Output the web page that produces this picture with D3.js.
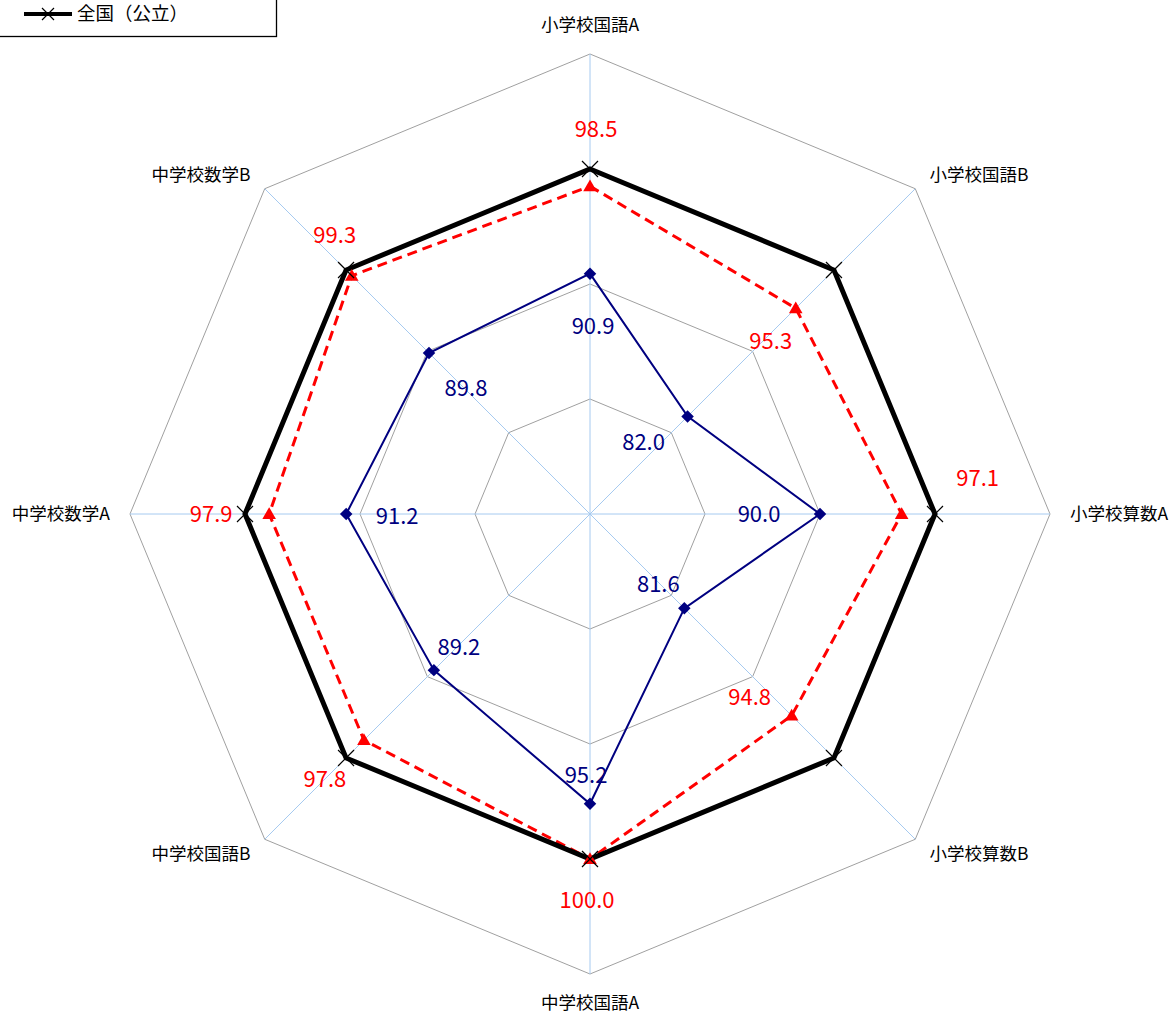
<!DOCTYPE html>
<html>
<head>
<meta charset="utf-8">
<script src="https://cdn.jsdelivr.net/npm/d3@7"></script>
<style>
  body { margin: 0; background: #fff; }
  text { font-family: "Noto Sans CJK JP", "Noto Sans", sans-serif; }
</style>
</head>
<body>
<script>
// categories, clockwise from the top
var categories = ["小学校国語A", "小学校国語B", "小学校算数A", "小学校算数B",
                  "中学校国語A", "中学校国語B", "中学校数学A", "中学校数学B"];
var nationalValues = [100, 100, 100, 100, 100, 100, 100, 100];
var redValues = [98.5, 95.3, 97.1, 94.8, 100.0, 97.8, 97.9, 99.3];
var blueValues = [90.9, 82.0, 90.0, 81.6, 95.2, 89.2, 91.2, 89.8];
var ringValues = [80, 90, 100, 110];
var legendLabel = "全国（公立）";

// where each data label sits relative to its point (layout only)
var redLabelShift = [[6, -57], [-25, 33], [76, -36], [-42, -18], [-3, 41], [-39, 39], [-58, 0], [-17, -40]];
var blueLabelShift = [[3, 53], [-44, 26], [-61, 0], [-26, -24], [-4, -29], [25, -23], [51, 2], [37, 35]];

var width = 1173, height = 1014;
var cx = 590, cy = 514, outer = 460;

var svg = d3.select("body").append("svg")
    .attr("width", width)
    .attr("height", height);

var r = d3.scaleLinear().domain([70, 110]).range([0, outer]);
var angle = d3.scaleLinear().domain([0, categories.length]).range([0, 2 * Math.PI]);

function px(v, i) { return cx + r(v) * Math.sin(angle(i)); }
function py(v, i) { return cy - r(v) * Math.cos(angle(i)); }

var radial = d3.lineRadial()
    .angle(function(d, i) { return angle(i); })
    .radius(function(d) { return r(d); })
    .curve(d3.curveLinearClosed);

var plot = svg.append("g")
    .attr("transform", "translate(" + cx + "," + cy + ")");

// grid rings
plot.selectAll(".ring")
    .data(ringValues)
  .enter().append("path")
    .attr("class", "ring")
    .attr("d", function(v) { return radial(categories.map(function() { return v; })); })
    .attr("fill", "none")
    .attr("stroke", "#a0a0a0")
    .attr("stroke-width", 1);

// spokes
plot.selectAll(".spoke")
    .data(categories)
  .enter().append("line")
    .attr("class", "spoke")
    .attr("x1", 0).attr("y1", 0)
    .attr("x2", function(d, i) { return r(110) * Math.sin(angle(i)); })
    .attr("y2", function(d, i) { return -r(110) * Math.cos(angle(i)); })
    .attr("stroke", "#a6caf0")
    .attr("stroke-width", 1);

// axis labels
svg.selectAll(".axislabel")
    .data(categories)
  .enter().append("text")
    .attr("class", "axislabel")
    .attr("x", function(d, i) { return px(110, i) + 20 * Math.sin(angle(i)); })
    .attr("y", function(d, i) {
      var c = Math.cos(angle(i)), s = Math.abs(Math.sin(angle(i)));
      return py(110, i) - c * (s < 0.1 ? 29 : 20);
    })
    .attr("dy", "0.35em")
    .style("text-anchor", function(d, i) {
      var s = Math.sin(angle(i));
      return s > 0.1 ? "start" : (s < -0.1 ? "end" : "middle");
    })
    .style("font-size", "17.5px")
    .attr("fill", "#000")
    .text(function(d) { return d; });

// blue series
plot.append("path")
    .attr("d", radial(blueValues))
    .attr("fill", "none")
    .attr("stroke", "#000080")
    .attr("stroke-width", 2);
svg.selectAll(".bluept")
    .data(blueValues)
  .enter().append("path")
    .attr("class", "bluept")
    .attr("d", d3.symbol().type(d3.symbolSquare).size(78))
    .attr("transform", function(d, i) { return "translate(" + px(d, i) + "," + py(d, i) + ") rotate(45)"; })
    .attr("fill", "#000080");

// red series
plot.append("path")
    .attr("d", radial(redValues))
    .attr("fill", "none")
    .attr("stroke", "#ff0000")
    .attr("stroke-width", 3)
    .attr("stroke-dasharray", "10,6");
svg.selectAll(".redpt")
    .data(redValues)
  .enter().append("path")
    .attr("class", "redpt")
    .attr("d", d3.symbol().type(d3.symbolTriangle).size(80))
    .attr("transform", function(d, i) { return "translate(" + px(d, i) + "," + (py(d, i) + 1) + ")"; })
    .attr("fill", "#ff0000");

// national series
var xMark = function(h) { return "M" + (-h) + "," + (-h) + "L" + h + "," + h + "M" + (-h) + "," + h + "L" + h + "," + (-h); };
plot.append("path")
    .attr("d", radial(nationalValues))
    .attr("fill", "none")
    .attr("stroke", "#000")
    .attr("stroke-width", 5)
    .attr("stroke-linejoin", "miter");
svg.selectAll(".natpt")
    .data(nationalValues)
  .enter().append("path")
    .attr("class", "natpt")
    .attr("d", xMark(8))
    .attr("transform", function(d, i) { return "translate(" + px(d, i) + "," + py(d, i) + ")"; })
    .attr("stroke", "#000")
    .attr("stroke-width", 1.2)
    .attr("fill", "none");

// data labels
svg.selectAll(".bluelabel")
    .data(blueValues)
  .enter().append("text")
    .attr("class", "bluelabel")
    .attr("x", function(d, i) { return px(d, i) + blueLabelShift[i][0]; })
    .attr("y", function(d, i) { return py(d, i) + blueLabelShift[i][1]; })
    .attr("dy", "0.35em")
    .style("text-anchor", "middle")
    .style("font-size", "22px")
    .attr("fill", "#000080")
    .text(function(d) { return d3.format(".1f")(d); });

svg.selectAll(".redlabel")
    .data(redValues)
  .enter().append("text")
    .attr("class", "redlabel")
    .attr("x", function(d, i) { return px(d, i) + redLabelShift[i][0]; })
    .attr("y", function(d, i) { return py(d, i) + redLabelShift[i][1]; })
    .attr("dy", "0.35em")
    .style("text-anchor", "middle")
    .style("font-size", "22px")
    .attr("fill", "#ff0000")
    .text(function(d) { return d3.format(".1f")(d); });

// legend (top part falls outside the picture)
var legend = svg.append("g");
legend.append("rect")
    .attr("x", -2).attr("y", -80)
    .attr("width", 278.5).attr("height", 116.5)
    .attr("fill", "#fff")
    .attr("stroke", "#000")
    .attr("stroke-width", 1.3);
legend.append("line")
    .attr("x1", 24).attr("y1", 14)
    .attr("x2", 72).attr("y2", 14)
    .attr("stroke", "#000")
    .attr("stroke-width", 4);
legend.append("path")
    .attr("d", xMark(6))
    .attr("transform", "translate(48,14)")
    .attr("stroke", "#000")
    .attr("stroke-width", 1.2);
legend.append("text")
    .attr("x", 77).attr("y", 14)
    .attr("dy", "0.35em")
    .style("font-size", "18.5px")
    .attr("fill", "#000")
    .text(legendLabel);
</script>
</body>
</html>
